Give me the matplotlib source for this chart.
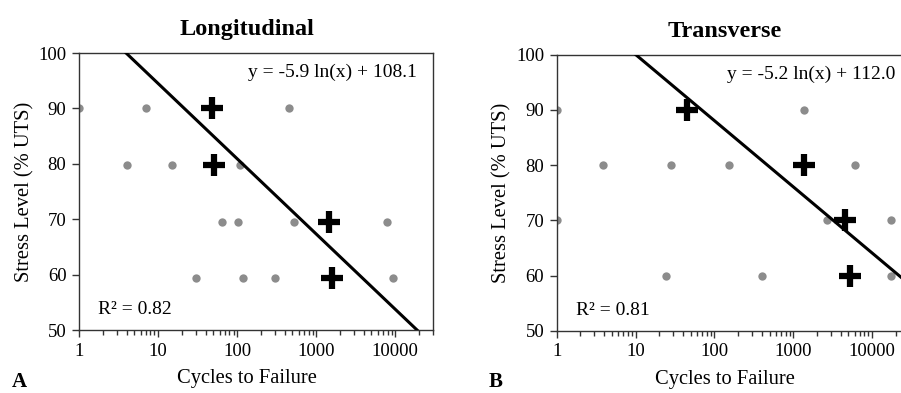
import numpy as np
import matplotlib.pyplot as plt
from matplotlib.ticker import LogLocator, NullFormatter, FixedLocator

plt.rcParams['font.family'] = ['Liberation Serif', 'DejaVu Serif']

# Longitudinal data (cycles, stress %UTS)
long_gray_x = [1, 7, 4, 15, 108, 450, 65, 104, 524, 7950, 30, 120, 300, 9400]
long_gray_y = [90, 90, 79.8, 79.8, 79.8, 90, 69.6, 69.6, 69.6, 69.6, 59.4, 59.4, 59.4, 59.4]
long_cross_x = [48, 51, 1450, 1600]
long_cross_y = [90, 79.8, 69.6, 59.4]
long_slope, long_icpt = -5.9, 108.1

# Transverse data
trans_gray_x = [1, 1380, 3.9, 28, 155, 6150, 1, 2650, 17300, 24, 400, 17300]
trans_gray_y = [90, 90, 80, 80, 80, 80, 70, 70, 70, 60, 60, 60]
trans_cross_x = [45, 1380, 4500, 5200]
trans_cross_y = [90, 80, 70, 60]
trans_slope, trans_icpt = -5.2, 112.0

xticks = [1, 10, 100, 1000, 10000]
xticklabels = ['1', '10', '100', '1000', '10000']
yticks = [50, 60, 70, 80, 90, 100]

fig = plt.figure(figsize=(9.01, 3.93), dpi=100)
ax1 = fig.add_axes([79 / 901, 0.160, 354 / 901, 0.705])
ax2 = fig.add_axes([556.7 / 901, 0.158, 353 / 901, 0.703])


def draw(ax, gx, gy, cx, cy, slope, icpt, title, eq, r2, title_x, eq_x):
    ax.plot(gx, gy, 'o', color='#8c8c8c', ms=6, mec='none', zorder=2)
    # trend line, drawn between stress 100 and 50
    xs = np.logspace(np.log10(np.exp((100 - icpt) / slope)),
                     np.log10(np.exp((50 - icpt) / slope)), 200)
    ax.plot(xs, slope * np.log(xs) + icpt, color='black', lw=2.2, zorder=3)
    ax.plot(cx, cy, '+', color='black', ms=16, mew=4.5, zorder=4)
    ax.set_xscale('log')
    ax.set_xlim(1, 30000)
    ax.set_ylim(50, 100)
    ax.xaxis.set_major_locator(FixedLocator(xticks))
    ax.set_xticklabels(xticklabels)
    ax.xaxis.set_minor_locator(LogLocator(base=10, subs=np.arange(2, 10)))
    ax.xaxis.set_minor_formatter(NullFormatter())
    ax.set_yticks(yticks)
    ax.tick_params(axis='both', which='major', direction='out', length=5,
                   width=1, labelsize=13.5, pad=4, color='#333333')
    ax.tick_params(axis='x', which='minor', direction='out', length=3.5,
                   width=1, color='#333333')
    for s in ax.spines.values():
        s.set_color('#333333')
        s.set_linewidth(1)
    ax.set_title(title, fontsize=17.5, fontweight='bold', pad=13, x=title_x)
    ax.set_xlabel('Cycles to Failure', fontsize=14.8, labelpad=7, x=title_x)
    ax.set_ylabel('Stress Level (% UTS)', fontsize=14.8, labelpad=3)
    ax.text(eq_x, 0.93, eq, transform=ax.transAxes, ha='right', va='center', fontsize=14)
    ax.text(0.055, 0.075, r2, transform=ax.transAxes, ha='left', va='center', fontsize=14)


draw(ax1, long_gray_x, long_gray_y, long_cross_x, long_cross_y,
     long_slope, long_icpt, 'Longitudinal', 'y = -5.9 ln(x) + 108.1', 'R\u00b2 = 0.82',
     (247 - 79) / 354, 0.955)
# the right panel runs past the figure edge, as in the reference
draw(ax2, trans_gray_x, trans_gray_y, trans_cross_x, trans_cross_y,
     trans_slope, trans_icpt, 'Transverse', 'y = -5.2 ln(x) + 112.0', 'R\u00b2 = 0.81',
     (725 - 556.7) / 353, (895 - 556.7) / 353)

fig.text(12 / 901, 1 - 382 / 393, 'A', fontsize=15, fontweight='bold', va='center')
fig.text(489 / 901, 1 - 382 / 393, 'B', fontsize=15, fontweight='bold', va='center')

fig.savefig('out.png', dpi=100)
